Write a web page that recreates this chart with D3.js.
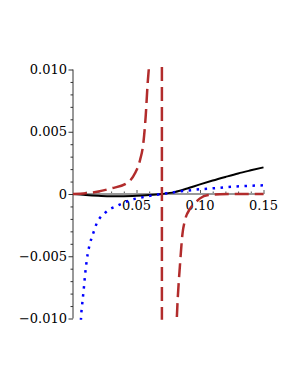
<!DOCTYPE html>
<html>
<head>
<meta charset="utf-8">
<script src="https://cdn.jsdelivr.net/npm/d3@7"></script>
<style>
  body { margin: 0; background: #fff; }
</style>
</head>
<body>
<div id="container"></div>
<script>
var width = 300;
var height = 388;

// tick values / labels
var xMajor = [0.05, 0.10, 0.15];
var xLabels = ["0.05", "0.10", "0.15"];
var xMinor = [0.01, 0.02, 0.03, 0.04, 0.06, 0.07, 0.08, 0.09, 0.11, 0.12, 0.13, 0.14];
var yMajor = [-0.010, -0.005, 0, 0.005, 0.010];
var yLabels = ["\u22120.010", "\u22120.005", "0", "0.005", "0.010"];
var yMinor = [-0.009, -0.008, -0.007, -0.006, -0.004, -0.003, -0.002, -0.001,
  0.001, 0.002, 0.003, 0.004, 0.006, 0.007, 0.008, 0.009];

// black solid curve
var blackX = [0, 0.01, 0.02, 0.03, 0.04, 0.05, 0.06, 0.07, 0.08, 0.09, 0.10, 0.11, 0.12, 0.13, 0.14, 0.15];
var blackY = [0, -0.00008, -0.00014, -0.00018, -0.00018, -0.00015, -0.00009, 0, 0.00015,
  0.00044, 0.00077, 0.00108, 0.00137, 0.00165, 0.00190, 0.00214];

// blue dotted curve
var blueX = [0.0060, 0.0063, 0.0071, 0.0079, 0.0087, 0.0094, 0.0105, 0.0116, 0.0128, 0.0144, 0.0161,
  0.0185, 0.0213, 0.0244, 0.0278, 0.0339, 0.0391, 0.0443, 0.0496, 0.0554, 0.0606, 0.0659,
  0.0700, 0.0869, 0.1000, 0.1131, 0.1262, 0.1394, 0.1500];
var blueY = [-0.0108, -0.0100, -0.0090, -0.0082, -0.0074, -0.0066, -0.0056, -0.0048, -0.0042, -0.0036, -0.0031,
  -0.0024, -0.0019, -0.00159, -0.0013, -0.00099, -0.00074, -0.00053, -0.00037, -0.00025, -0.00015, -0.00006,
  0, 0.00024, 0.00038, 0.00048, 0.00059, 0.00066, 0.00070];

// red dashed curve, left branch
var redLeftX = [0, 0.01, 0.02, 0.03, 0.0423, 0.0488, 0.0528, 0.0554, 0.0572, 0.0588, 0.0598, 0.0606];
var redLeftY = [0, 0.00006, 0.00020, 0.00045, 0.00086, 0.00166, 0.00273, 0.0041, 0.0062, 0.0089, 0.0102, 0.0115];

// red dashed curve, right branch
var redRightX = [0.0812, 0.0817, 0.0843, 0.0862, 0.0882, 0.0921, 0.0974, 0.1000, 0.1065, 0.1157, 0.1315, 0.1500];
var redRightY = [-0.0115, -0.0101, -0.0056, -0.0032, -0.0021, -0.0012, -0.0006, -0.00035, -0.00008, -0.00002, 0, 0];

// vertical red dashed line
var asymX = [0.07, 0.07];
var asymY = [-0.0102, 0.0104];

var x = d3.scaleLinear().domain([0, 0.15]).range([73, 263.5]);
var y = d3.scaleLinear().domain([-0.01, 0.01]).range([318.5, 69.5]);

var svg = d3.select("#container")
  .append("svg")
  .attr("width", width)
  .attr("height", height);

// x axis: minor and major ticks pointing up, labels below
var xg = svg.append("g").attr("transform", "translate(0," + y(0) + ")");
xg.call(d3.axisTop(x).tickValues(xMinor).tickSize(2.5).tickFormat(""));
xg.append("g").call(d3.axisTop(x).tickValues(xMajor).tickSize(4).tickFormat(""));
xg.selectAll(".domain").remove();
xg.selectAll("line").attr("stroke", "#555").attr("stroke-width", 1);
xg.append("line")
  .attr("x1", x(0)).attr("x2", x(0.15))
  .attr("stroke", "#999").attr("stroke-width", 2);
xg.selectAll("text.xl")
  .data(xMajor)
  .enter().append("text")
  .attr("class", "xl")
  .attr("x", function(d) { return x(d); })
  .attr("y", 16)
  .attr("text-anchor", "middle")
  .attr("font-family", "DejaVu Serif")
  .attr("font-size", 13)
  .attr("fill", "#000")
  .text(function(d, i) { return xLabels[i]; });

// y axis: ticks pointing left
var yg = svg.append("g").attr("transform", "translate(" + x(0) + ",0)");
yg.call(d3.axisLeft(y).tickValues(yMinor).tickSize(2.5).tickFormat(""));
yg.append("g").call(d3.axisLeft(y).tickValues(yMajor).tickSize(4.5).tickFormat(""));
yg.selectAll(".domain").remove();
yg.selectAll("line").attr("stroke", "#333").attr("stroke-width", 1);
yg.append("line")
  .attr("y1", y(0.01)).attr("y2", y(-0.01))
  .attr("stroke", "#333").attr("stroke-width", 1);
yg.selectAll("text.yl")
  .data(yMajor)
  .enter().append("text")
  .attr("class", "yl")
  .attr("x", -6)
  .attr("y", function(d) { return y(d); })
  .attr("dy", "0.36em")
  .attr("text-anchor", "end")
  .attr("font-family", "DejaVu Serif")
  .attr("font-size", 13)
  .attr("fill", "#000")
  .text(function(d, i) { return yLabels[i]; });

svg.append("clipPath")
  .attr("id", "clip")
  .append("rect")
  .attr("x", x(0) - 2)
  .attr("y", y(0.0104))
  .attr("width", x(0.15) - x(0) + 4)
  .attr("height", y(-0.0101) - y(0.0104));

var line = d3.line()
  .x(function(d) { return x(d[0]); })
  .y(function(d) { return y(d[1]); })
  .curve(d3.curveMonotoneX);

function pts(xs, ys) {
  return xs.map(function(v, i) { return [v, ys[i]]; });
}

var plot = svg.append("g").attr("clip-path", "url(#clip)");

plot.append("path")
  .datum(pts(blackX, blackY))
  .attr("d", line)
  .attr("fill", "none")
  .attr("stroke", "#000")
  .attr("stroke-width", 2);

plot.append("path")
  .datum(pts(blueX, blueY))
  .attr("d", line)
  .attr("fill", "none")
  .attr("stroke", "#0000ff")
  .attr("stroke-width", 2.5)
  .attr("stroke-dasharray", "2.5,5.5");

var red = "#b22c2c";
[pts(redLeftX, redLeftY), pts(redRightX, redRightY)].forEach(function(p) {
  plot.append("path")
    .datum(p)
    .attr("d", line)
    .attr("fill", "none")
    .attr("stroke", red)
    .attr("stroke-width", 2.5)
    .attr("stroke-dasharray", "14,6");
});

plot.append("path")
  .datum(pts(asymX, asymY))
  .attr("d", d3.line().x(function(d) { return x(d[0]); }).y(function(d) { return y(d[1]); }))
  .attr("fill", "none")
  .attr("stroke", red)
  .attr("stroke-width", 2.5)
  .attr("stroke-dasharray", "14,6");
</script>
</body>
</html>
